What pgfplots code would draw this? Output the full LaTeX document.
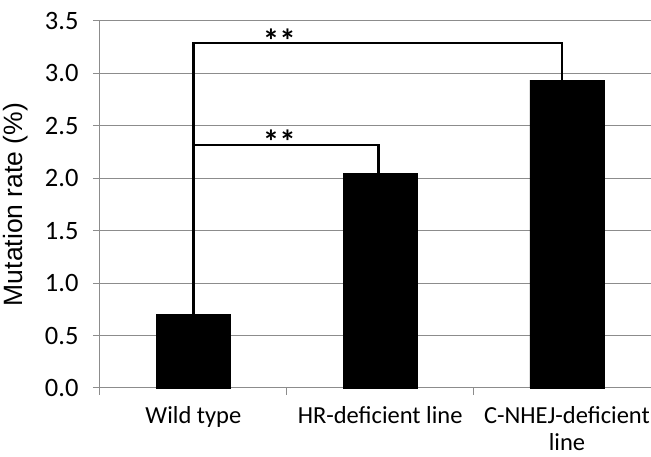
\documentclass[border=0pt]{standalone}
\usepackage{fontspec}
\setmainfont{Carlito}
\newfontfamily\arialfont{Liberation Sans}
\usepackage{pgfplots}
\pgfplotsset{compat=1.18}
\definecolor{gridgray}{RGB}{140,140,140}
\begin{document}
\begin{tikzpicture}
\path[use as bounding box] (-100pt,-69pt) rectangle (551pt,388pt);
\begin{axis}[
  at={(0,0)}, anchor=south west,
  scale only axis, width=551pt, height=367pt,
  xmin=-0.5, xmax=2.45, ymin=0, ymax=3.5,
  axis x line*=bottom, axis y line*=left,
  axis line style={draw=gridgray, line width=1pt, -},
  ytick={0,0.5,...,3.5},
  /pgf/number format/fixed, /pgf/number format/fixed zerofill,
  /pgf/number format/precision=1, /pgf/number format/assume math mode=true,
  yticklabel style={font=\fontsize{26.5}{30}\selectfont, xshift=-11pt},
  ymajorgrids, grid style={draw=gridgray, line width=1pt},
  tick align=outside, major tick length=7pt,
  tick style={draw=gridgray, line width=1pt},
  xtick={-0.5,0.5,1.5}, xticklabels={},
  extra x ticks={0,1,2},
  extra x tick labels={Wild type, HR-deficient line, {C-NHEJ-deficient\\line}},
  extra x tick style={tick style={draw=none}},
  xticklabel style={font=\fontsize{24.5}{27}\selectfont, align=center, yshift=-10pt, inner sep=1pt},
  ylabel={\arialfont Mutation rate (\%)},
  ylabel style={font=\fontsize{26.5}{30}\selectfont, yshift=10pt},
  clip=false,
]
\addplot[ybar, bar width=74pt, fill=black, draw=black] coordinates {(0,0.70) (1,2.05) (2,2.935)};
\addplot[black, line width=2.4pt, mark=none] coordinates {(0,0.70) (0,3.29) (1.973,3.29) (1.973,2.935)};
\addplot[black, line width=2.4pt, mark=none] coordinates {(0,2.32) (0.99,2.32) (0.99,2.05)};
\node[font=\fontsize{33}{34}\selectfont\bfseries, anchor=base] at (axis cs:0.46,3.20) {**};
\node[font=\fontsize{33}{34}\selectfont\bfseries, anchor=base] at (axis cs:0.46,2.24) {**};
\end{axis}
\end{tikzpicture}
\end{document}
